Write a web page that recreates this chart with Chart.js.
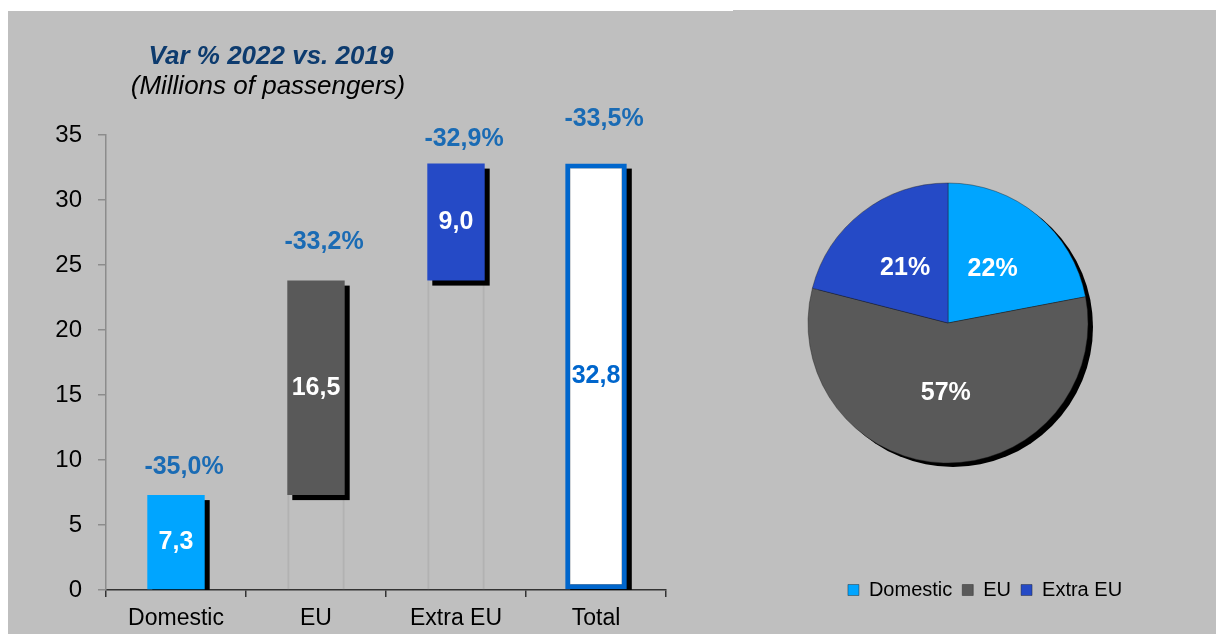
<!DOCTYPE html>
<html>
<head>
<meta charset="utf-8">
<script src="https://cdn.jsdelivr.net/npm/chart.js@4.4.1/dist/chart.umd.min.js"></script>
<style>
  html, body { margin: 0; padding: 0; background: #fff; }
  body { width: 1216px; height: 634px; position: relative; overflow: hidden; }
  .panel { position: absolute; background: #bfbfbf; }
  #barBox { left: 8px; top: 11px; width: 725px; height: 623px; }
  #pieBox { left: 733px; top: 10px; width: 483px; height: 624px; }
</style>
</head>
<body>
<div class="panel" id="barBox"><canvas id="barChart" width="725" height="623"></canvas></div>
<div class="panel" id="pieBox"><canvas id="pieChart" width="483" height="624"></canvas></div>
<script>
// dati
const categories = ['Domestic', 'EU', 'Extra EU', 'Total'];
const passengers = [7.3, 16.5, 9.0, 32.8];
const varPct = [-35.0, -33.2, -32.9, -33.5];
const yTicks = [0, 5, 10, 15, 20, 25, 30, 35];
const pieLabels = ['Domestic', 'EU', 'Extra EU'];
const pieShares = [22, 57, 21];

const FONT = '"Liberation Sans", Arial, sans-serif';
const sliceColors = ['#00a5ff', '#595959', '#254ac6'];
const pctColor = '#1a6bb4';
const totalBlue = '#0066cc';

function fmt(v, dec) {
  return v.toFixed(dec).replace('.', ',');
}

// barre flottanti (cascata) costruite dai valori
let run = 0;
const steps = [];
const ghosts = [];
for (let i = 0; i < 3; i++) {
  steps.push([run, run + passengers[i]]);
  ghosts.push(run > 0 ? [0, run] : null);
  run += passengers[i];
}
steps.push(null);
ghosts.push(null);
const totalBar = [null, null, null, [0, passengers[3]]];

// ombre, etichette e titolo
const labelLift = [28, 38, 24, 44];
const barDecor = {
  id: 'barDecor',
  beforeDatasetDraw(chart, args) {
    const ds = chart.data.datasets[args.index];
    if (!ds.shadow) return;
    const ctx = chart.ctx;
    const area = chart.chartArea;
    ctx.save();
    ctx.beginPath();
    ctx.rect(area.left, 0, area.right - area.left + 20, area.bottom);
    ctx.clip();
    ctx.fillStyle = '#000';
    args.meta.data.forEach((bar, i) => {
      if (ds.data[i] == null) return;
      const p = bar.getProps(['x', 'y', 'base', 'width'], true);
      const top = Math.min(p.y, p.base);
      ctx.fillRect(p.x - p.width / 2 + 5, top + 5, p.width, Math.abs(p.base - p.y));
    });
    ctx.restore();
  },
  afterDraw(chart) {
    const ctx = chart.ctx;
    ctx.save();
    ctx.textAlign = 'center';
    ctx.textBaseline = 'alphabetic';
    ctx.font = 'italic bold 26px ' + FONT;
    ctx.fillStyle = '#0d3b6e';
    ctx.fillText('Var % 2022 vs. 2019', 263, 53);
    ctx.font = 'italic 26px ' + FONT;
    ctx.fillStyle = '#000';
    ctx.fillText('(Millions of passengers)', 260, 83);

    ctx.textBaseline = 'middle';
    categories.forEach((c, i) => {
      const meta = chart.getDatasetMeta(i < 3 ? 1 : 2);
      const p = meta.data[i].getProps(['x', 'y', 'base'], true);
      ctx.font = 'bold 25px ' + FONT;
      ctx.fillStyle = i < 3 ? '#fff' : totalBlue;
      ctx.fillText(fmt(passengers[i], 1), p.x, (p.y + p.base) / 2);
      ctx.fillStyle = pctColor;
      ctx.fillText(fmt(varPct[i], 1) + '%', p.x + 8, Math.min(p.y, p.base) - labelLift[i]);
    });
    ctx.restore();
  }
};

new Chart(document.getElementById('barChart'), {
  type: 'bar',
  data: {
    labels: categories,
    datasets: [
      {
        data: ghosts,
        backgroundColor: 'rgba(0,0,0,0)',
        borderColor: '#b2b2b2',
        borderWidth: { left: 2, right: 2, top: 0, bottom: 0 },
        borderSkipped: false,
        barPercentage: 0.41,
        order: 3
      },
      {
        data: steps,
        backgroundColor: sliceColors,
        borderWidth: 0,
        barPercentage: 0.41,
        shadow: true,
        order: 1
      },
      {
        data: totalBar,
        backgroundColor: '#ffffff',
        borderColor: totalBlue,
        borderWidth: 5,
        borderSkipped: false,
        barPercentage: 0.44,
        shadow: true,
        order: 2
      }
    ]
  },
  options: {
    responsive: false,
    animation: false,
    grouped: false,
    categoryPercentage: 1,
    layout: { padding: { left: 0, right: 67, top: 124, bottom: 0 } },
    plugins: { legend: { display: false }, tooltip: { enabled: false } },
    scales: {
      x: {
        afterFit: (s) => { s.height = 44; },
        grid: { drawOnChartArea: false, drawTicks: true, tickLength: 7, color: '#333', lineWidth: 1.5 },
        border: { color: '#333', width: 1.5 },
        ticks: { color: '#000', font: { family: FONT, size: 23 }, padding: 8 }
      },
      y: {
        min: 0,
        max: 35,
        afterFit: (s) => { s.width = 98; },
        afterBuildTicks: (s) => { s.ticks = yTicks.map((v) => ({ value: v })); },
        grid: { drawOnChartArea: false, drawTicks: true, tickLength: 8, color: '#8c8c8c', lineWidth: 1.5 },
        border: { color: '#8c8c8c', width: 1.5 },
        ticks: { color: '#000', font: { family: FONT, size: 24 }, padding: 16 }
      }
    }
  },
  plugins: [barDecor]
});

// torta
const pieDecor = {
  id: 'pieDecor',
  afterLayout(chart) {
    const lg = chart.legend;
    lg.left += 37; lg.right += 37;
    lg.top -= 24; lg.bottom -= 24;
  },
  beforeDatasetsDraw(chart) {
    const arc = chart.getDatasetMeta(0).data[0];
    const p = arc.getProps(['x', 'y', 'outerRadius'], true);
    const ctx = chart.ctx;
    ctx.save();
    ctx.fillStyle = '#000';
    ctx.beginPath();
    ctx.arc(p.x + 5, p.y + 4, p.outerRadius, 0, Math.PI * 2);
    ctx.fill();
    ctx.restore();
  },
  afterDatasetsDraw(chart) {
    const ctx = chart.ctx;
    ctx.save();
    ctx.font = 'bold 25px ' + FONT;
    ctx.fillStyle = '#fff';
    ctx.textAlign = 'center';
    ctx.textBaseline = 'middle';
    chart.getDatasetMeta(0).data.forEach((arc, i) => {
      const pos = arc.tooltipPosition(true);
      ctx.fillText(pieShares[i] + '%', pos.x, pos.y);
    });
    ctx.restore();
  }
};

new Chart(document.getElementById('pieChart'), {
  type: 'pie',
  data: {
    labels: pieLabels,
    datasets: [{
      data: pieShares,
      backgroundColor: sliceColors,
      borderColor: 'rgba(30,30,30,0.7)',
      borderWidth: 0.6,
      radius: 140
    }]
  },
  options: {
    responsive: false,
    animation: false,
    layout: { padding: { left: 0, right: 53, top: 42, bottom: 0 } },
    plugins: {
      tooltip: { enabled: false },
      legend: {
        position: 'bottom',
        labels: {
          boxWidth: 11,
          boxHeight: 11,
          padding: 10,
          color: '#000',
          font: { family: FONT, size: 20 }
        }
      }
    }
  },
  plugins: [pieDecor]
});
</script>
</body>
</html>
